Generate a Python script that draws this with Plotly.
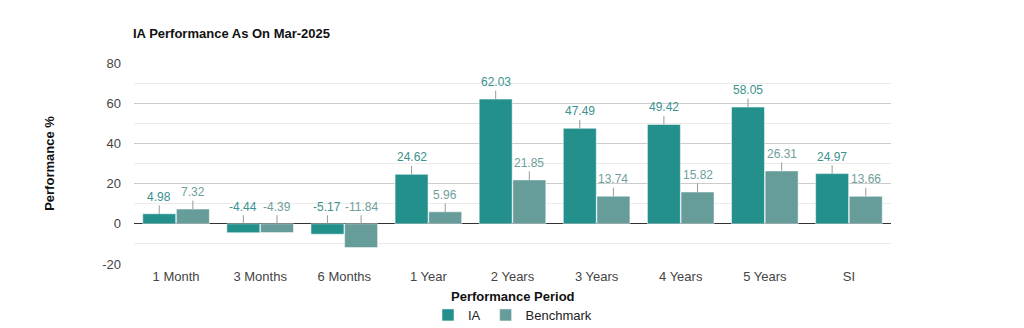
import plotly.graph_objects as go

categories = ["1 Month", "3 Months", "6 Months", "1 Year", "2 Years", "3 Years", "4 Years", "5 Years", "SI"]
ia_values = [4.98, -4.44, -5.17, 24.62, 62.03, 47.49, 49.42, 58.05, 24.97]
bench_values = [7.32, -4.39, -11.84, 5.96, 21.85, 13.74, 15.82, 26.31, 13.66]
y_ticks = [-20, 0, 20, 40, 60, 80]

IA_COLOR = "#23908c"
BM_COLOR = "#669c9a"
IA_TEXT = "#3b928e"
BM_TEXT = "#6f9e9c"
FONT = "Liberation Sans, Arial, sans-serif"

fig = go.Figure()
fig.add_trace(go.Bar(name="IA", x=categories, y=ia_values, marker=dict(color=IA_COLOR, line=dict(color="white", width=0.5))))
fig.add_trace(go.Bar(name="Benchmark", x=categories, y=bench_values, marker=dict(color=BM_COLOR, line=dict(color="white", width=0.5))))

bargap = 0.2
half = (1 - bargap) / 4
annotations = []
for i, (a, b) in enumerate(zip(ia_values, bench_values)):
    for off, v, col in ((-half, a, IA_TEXT), (half, b, BM_TEXT)):
        annotations.append(dict(
            x=i + off, y=max(v, 0), xref="x", yref="y",
            text=f"{v:.2f}", showarrow=True, arrowhead=0, arrowwidth=1,
            arrowcolor="#999999", ax=0, ay=-17,
            font=dict(family=FONT, size=12, color=col),
        ))

# x-axis title placed as a paper annotation for exact vertical position
annotations.append(dict(
    text="<b>Performance Period</b>", xref="paper", yref="paper",
    x=0.5, y=-32/201, xanchor="center", yanchor="middle", showarrow=False,
    font=dict(family=FONT, size=13, color="#111111"),
))

fig.update_layout(
    width=1024, height=328,
    margin=dict(l=134, r=133, t=63, b=64, autoexpand=False),
    paper_bgcolor="white", plot_bgcolor="white",
    barmode="group", bargap=bargap, bargroupgap=0.02,
    font=dict(family=FONT, size=13, color="#444444"),
    title=dict(text="<b>IA Performance As On Mar-2025</b>", x=133/1024, xanchor="left",
               y=1 - 33/328, yanchor="middle", font=dict(family=FONT, size=13, color="#111111")),
    xaxis=dict(tickfont=dict(size=13, color="#444444"), showgrid=False, showline=False, ticks="",
               ticklabelstandoff=3, automargin=False),
    yaxis=dict(title=dict(text="<b>Performance %</b>", font=dict(size=13, color="#111111"), standoff=44),
               range=[-20, 80], tickvals=y_ticks, ticktext=[str(t) for t in y_ticks],
               gridcolor="#cccccc", gridwidth=1,
               zeroline=True, zerolinecolor="#333333", zerolinewidth=1,
               minor=dict(dtick=10, showgrid=True, gridcolor="#ebebeb", gridwidth=1),
               tickfont=dict(size=13, color="#444444"), ticks="", ticklabelstandoff=12,
               automargin=False),
    legend=dict(orientation="h", x=0.5, xanchor="center", y=1 - 315/328, yanchor="middle",
                yref="container", font=dict(size=13, color="#222222"), traceorder="normal"),
    annotations=annotations,
)

fig.write_html("out.html")
